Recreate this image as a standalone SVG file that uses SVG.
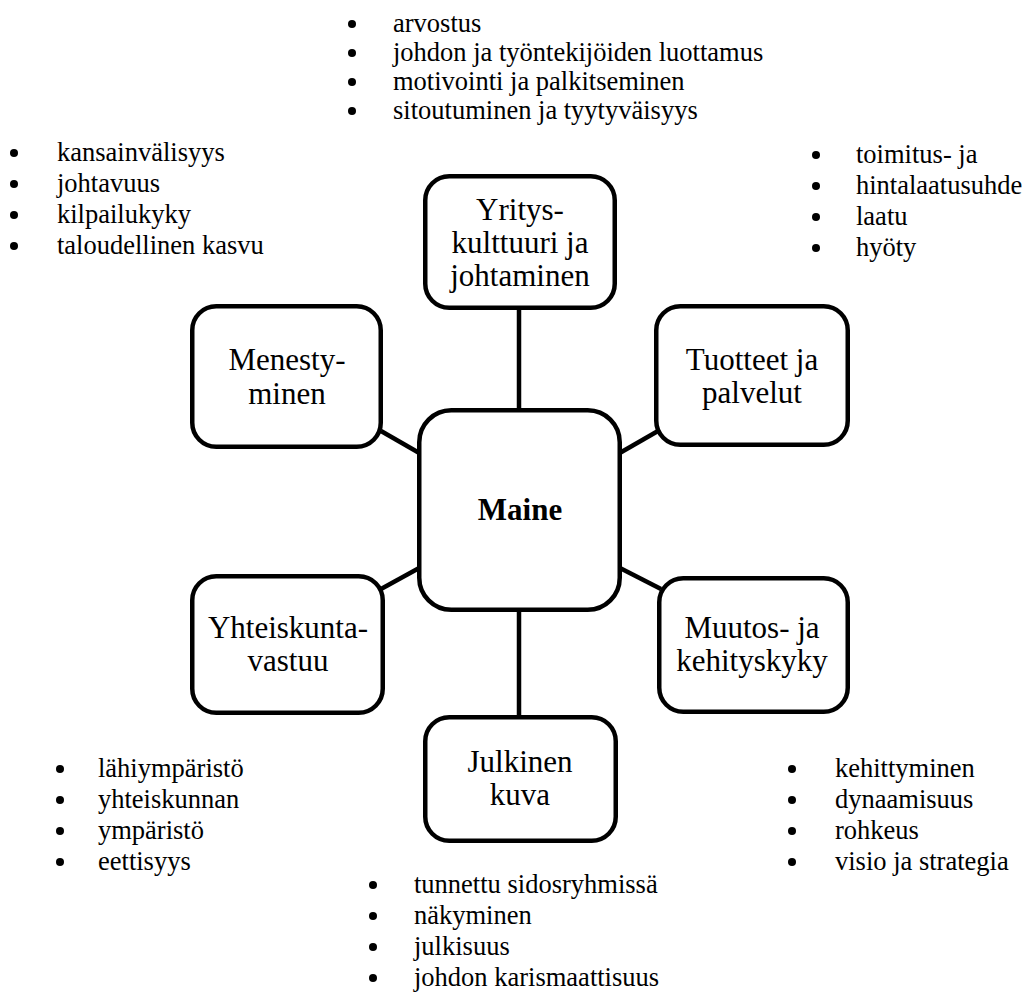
<svg xmlns="http://www.w3.org/2000/svg" width="1024" height="997" viewBox="0 0 1024 997">
  <style>
    .box { fill: #ffffff; stroke: #000000; stroke-width: 4.5; }
    .link { stroke: #000000; stroke-width: 4.5; fill: none; }
    .label { font-size: 31px; fill: #000000; text-anchor: middle; }
    .bold { font-weight: bold; }
    .entry { font-size: 26.5px; fill: #000000; }
    .dot { fill: #000000; }
  </style>
  <rect width="1024" height="997" fill="#ffffff"/>

  <!-- connectors between the centre node and the six topics -->
  <g id="connectors">
    <line class="link" x1="519" y1="310" x2="519" y2="412"/>
    <line class="link" x1="519" y1="608" x2="519" y2="718"/>
    <line class="link" x1="381" y1="431" x2="421" y2="454"/>
    <line class="link" x1="381" y1="589" x2="421" y2="567"/>
    <line class="link" x1="618" y1="454" x2="658" y2="431"/>
    <line class="link" x1="618" y1="567" x2="661" y2="589"/>
  </g>

  <g font-family="'Liberation Serif', 'Times New Roman', serif">
    <g id="node-maine">
      <rect class="box" x="419.25" y="410.25" width="200.5" height="199.5" rx="32"/>
      <text class="label bold" x="520" y="520">Maine</text>
    </g>

    <g id="node-yrityskulttuuri">
      <rect class="box" x="425.25" y="176.25" width="189.5" height="131.5" rx="24"/>
      <text class="label" x="520" y="220">Yritys-</text>
      <text class="label" x="520" y="253">kulttuuri ja</text>
      <text class="label" x="520" y="286">johtaminen</text>
    </g>

    <g id="node-menestyminen">
      <rect class="box" x="192.25" y="306.25" width="188.5" height="140.5" rx="24"/>
      <text class="label" x="287" y="370">Menesty-</text>
      <text class="label" x="287" y="404">minen</text>
    </g>

    <g id="node-tuotteet">
      <rect class="box" x="656.25" y="306.25" width="191.5" height="138.5" rx="24"/>
      <text class="label" x="752" y="370">Tuotteet ja</text>
      <text class="label" x="752" y="403">palvelut</text>
    </g>

    <g id="node-yhteiskuntavastuu">
      <rect class="box" x="192.25" y="576.25" width="190.5" height="136.5" rx="24"/>
      <text class="label" x="288" y="638">Yhteiskunta-</text>
      <text class="label" x="288" y="671">vastuu</text>
    </g>

    <g id="node-muutos">
      <rect class="box" x="659.25" y="578.25" width="188.5" height="133.5" rx="24"/>
      <text class="label" x="752" y="638">Muutos- ja</text>
      <text class="label" x="752" y="671">kehityskyky</text>
    </g>

    <g id="node-julkinen">
      <rect class="box" x="425.25" y="717.25" width="190.5" height="123.5" rx="24"/>
      <text class="label" x="520" y="772">Julkinen</text>
      <text class="label" x="520" y="805">kuva</text>
    </g>

    <!-- bullet lists -->
    <g id="list-top">
      <circle class="dot" cx="352" cy="24" r="4"/>
      <circle class="dot" cx="352" cy="53" r="4"/>
      <circle class="dot" cx="352" cy="82" r="4"/>
      <circle class="dot" cx="352" cy="111" r="4"/>
      <text class="entry" x="393" y="32">arvostus</text>
      <text class="entry" x="393" y="61">johdon ja työntekijöiden luottamus</text>
      <text class="entry" x="393" y="90">motivointi ja palkitseminen</text>
      <text class="entry" x="393" y="119">sitoutuminen ja tyytyväisyys</text>
    </g>

    <g id="list-left">
      <circle class="dot" cx="14" cy="153" r="4"/>
      <circle class="dot" cx="14" cy="184" r="4"/>
      <circle class="dot" cx="14" cy="215" r="4"/>
      <circle class="dot" cx="14" cy="246" r="4"/>
      <text class="entry" x="57" y="161">kansainvälisyys</text>
      <text class="entry" x="57" y="192">johtavuus</text>
      <text class="entry" x="57" y="223">kilpailukyky</text>
      <text class="entry" x="57" y="254">taloudellinen kasvu</text>
    </g>

    <g id="list-right">
      <circle class="dot" cx="816" cy="155" r="4"/>
      <circle class="dot" cx="816" cy="186" r="4"/>
      <circle class="dot" cx="816" cy="217" r="4"/>
      <circle class="dot" cx="816" cy="248" r="4"/>
      <text class="entry" x="856" y="163">toimitus- ja</text>
      <text class="entry" x="856" y="194">hintalaatusuhde</text>
      <text class="entry" x="856" y="225">laatu</text>
      <text class="entry" x="856" y="256">hyöty</text>
    </g>

    <g id="list-bottom-left">
      <circle class="dot" cx="60" cy="769" r="4"/>
      <circle class="dot" cx="60" cy="800" r="4"/>
      <circle class="dot" cx="60" cy="831" r="4"/>
      <circle class="dot" cx="60" cy="862" r="4"/>
      <text class="entry" x="98" y="777">lähiympäristö</text>
      <text class="entry" x="98" y="808">yhteiskunnan</text>
      <text class="entry" x="98" y="839">ympäristö</text>
      <text class="entry" x="98" y="870">eettisyys</text>
    </g>

    <g id="list-bottom-right">
      <circle class="dot" cx="792" cy="769" r="4"/>
      <circle class="dot" cx="792" cy="800" r="4"/>
      <circle class="dot" cx="792" cy="831" r="4"/>
      <circle class="dot" cx="792" cy="862" r="4"/>
      <text class="entry" x="835" y="777">kehittyminen</text>
      <text class="entry" x="835" y="808">dynaamisuus</text>
      <text class="entry" x="835" y="839">rohkeus</text>
      <text class="entry" x="835" y="870">visio ja strategia</text>
    </g>

    <g id="list-bottom">
      <circle class="dot" cx="373" cy="885" r="4"/>
      <circle class="dot" cx="373" cy="916" r="4"/>
      <circle class="dot" cx="373" cy="947" r="4"/>
      <circle class="dot" cx="373" cy="978" r="4"/>
      <text class="entry" x="414" y="893">tunnettu sidosryhmissä</text>
      <text class="entry" x="414" y="924">näkyminen</text>
      <text class="entry" x="414" y="955">julkisuus</text>
      <text class="entry" x="414" y="986">johdon karismaattisuus</text>
    </g>
  </g>
</svg>
